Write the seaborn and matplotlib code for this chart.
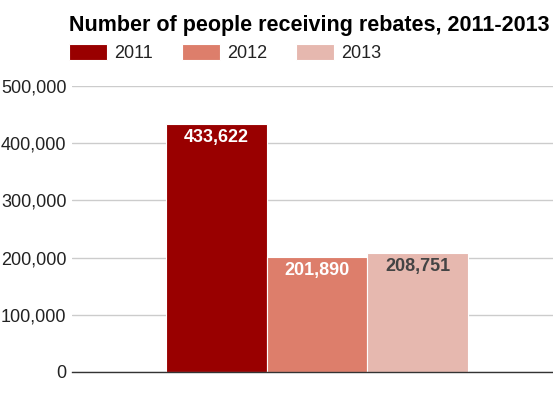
import matplotlib
matplotlib.use("Agg")
import matplotlib.pyplot as plt
import seaborn as sns
import pandas as pd
from matplotlib.ticker import FuncFormatter

title = "Number of people receiving rebates, 2011-2013"
years = ["2011", "2012", "2013"]
values = [433622, 201890, 208751]
colors = ["#990000", "#dd7e6b", "#e6b8af"]
label_colors = ["#ffffff", "#ffffff", "#444444"]
yticks = [0, 100000, 200000, 300000, 400000, 500000]

sns.set_theme(style="white")
plt.rcParams["font.family"] = ["Liberation Sans", "DejaVu Sans"]

df = pd.DataFrame({"cat": [""] * len(years), "year": years, "value": values})

fig = plt.figure(figsize=(5.53, 3.98), dpi=100)
ax = fig.add_axes([72 / 553, 1 - 372 / 398, 1 - 72 / 553, (372 - 86) / 398])

sns.barplot(data=df, x="cat", y="value", hue="year", hue_order=years,
            palette=colors, width=0.8, saturation=1, ax=ax,
            edgecolor="white", linewidth=0.8, legend=True)

ax.set_xlim(-0.649, 0.625)
ax.set_ylim(0, 500000)
ax.set_yticks(yticks)
ax.yaxis.set_major_formatter(FuncFormatter(lambda v, p: f"{int(v):,}"))
ax.tick_params(axis="y", labelsize=13, labelcolor="#222222", length=0, pad=4)
ax.set_xticks([])
ax.set_xlabel("")
ax.set_ylabel("")
ax.grid(axis="y", color="#cccccc", linewidth=1)
ax.set_axisbelow(True)
for s in ["top", "right", "left"]:
    ax.spines[s].set_visible(False)
ax.spines["bottom"].set_color("#333333")
ax.spines["bottom"].set_linewidth(1)

for cont, lc in zip(ax.containers, label_colors):
    ax.bar_label(cont, labels=[f"{int(round(v)):,}" for v in cont.datavalues],
                 padding=-16, color=lc, fontsize=13, fontweight="bold")

handles, labels = ax.get_legend_handles_labels()
ax.get_legend().remove()
fig.legend(handles, labels, loc="upper left", bbox_to_anchor=(69 / 553, 1 - 44 / 398),
           ncol=3, frameon=False, fontsize=13, handlelength=2.1, handleheight=1.0,
           handletextpad=0.4, columnspacing=1.6, borderpad=0, borderaxespad=0,
           labelcolor="#222222")

fig.text(69 / 553, 1 - 31 / 398, title, fontsize=15.5, fontweight="bold",
         color="#000000", ha="left", va="baseline")

fig.savefig("out.png", dpi=100)
